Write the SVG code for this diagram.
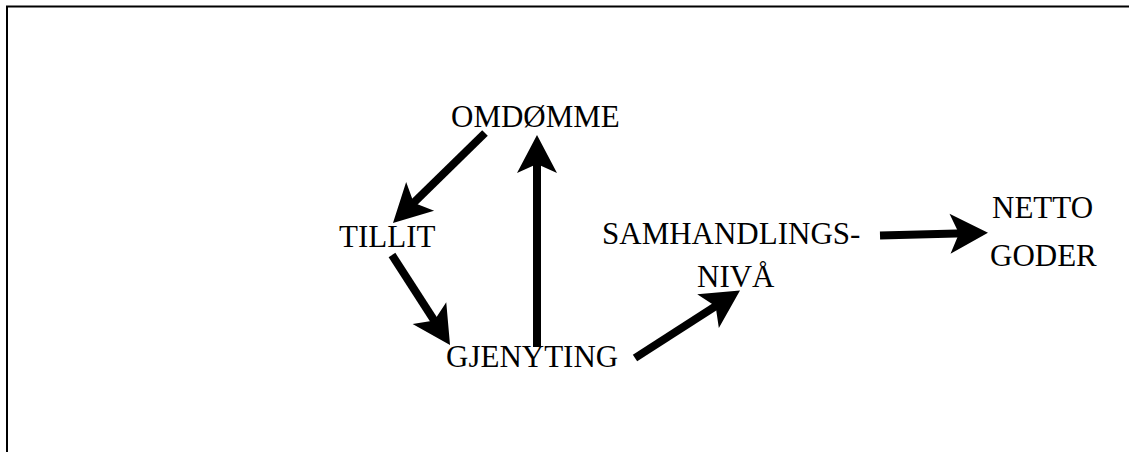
<svg xmlns="http://www.w3.org/2000/svg" width="1129" height="452" viewBox="0 0 1129 452">
<style>
  text { font-family: "Liberation Serif", "Times New Roman", serif; font-size: 31px; fill: #000; }
  .conn { stroke: #000; stroke-width: 8; fill: none; marker-end: url(#head); }
</style>
<defs>
  <marker id="head" markerUnits="userSpaceOnUse" viewBox="0 0 38 40" markerWidth="38" markerHeight="40" refX="16" refY="20" orient="auto" overflow="visible">
    <path d="M0,0 L38,20 L0,40 L9,20 Z" fill="#000"/>
  </marker>
</defs>
<rect width="1129" height="452" fill="#fff"/>
<path d="M7,460 V6.5 H1135" stroke="#000" stroke-width="2" fill="none"/>
<g id="connectors">
  <line class="conn" x1="485" y1="133" x2="408.7" y2="207.6"/>
  <line class="conn" x1="392" y1="255" x2="438.1" y2="326.5"/>
  <line class="conn" x1="537" y1="347" x2="537" y2="157"/>
  <line class="conn" x1="635" y1="358" x2="721.5" y2="302.4"/>
  <line class="conn" x1="880" y1="235.5" x2="966" y2="233.3"/>
</g>
<g id="node-omdomme"><text x="451" y="127">OMDØMME</text></g>
<g id="node-tillit"><text x="339" y="247">TILLIT</text></g>
<g id="node-gjenyting"><text x="446" y="367">GJENYTING</text></g>
<g id="node-samhandling"><text x="602" y="244">SAMHANDLINGS-</text><text x="697" y="287">NIVÅ</text></g>
<g id="node-netto"><text x="992" y="218">NETTO</text><text x="990" y="266">GODER</text></g>
</svg>
